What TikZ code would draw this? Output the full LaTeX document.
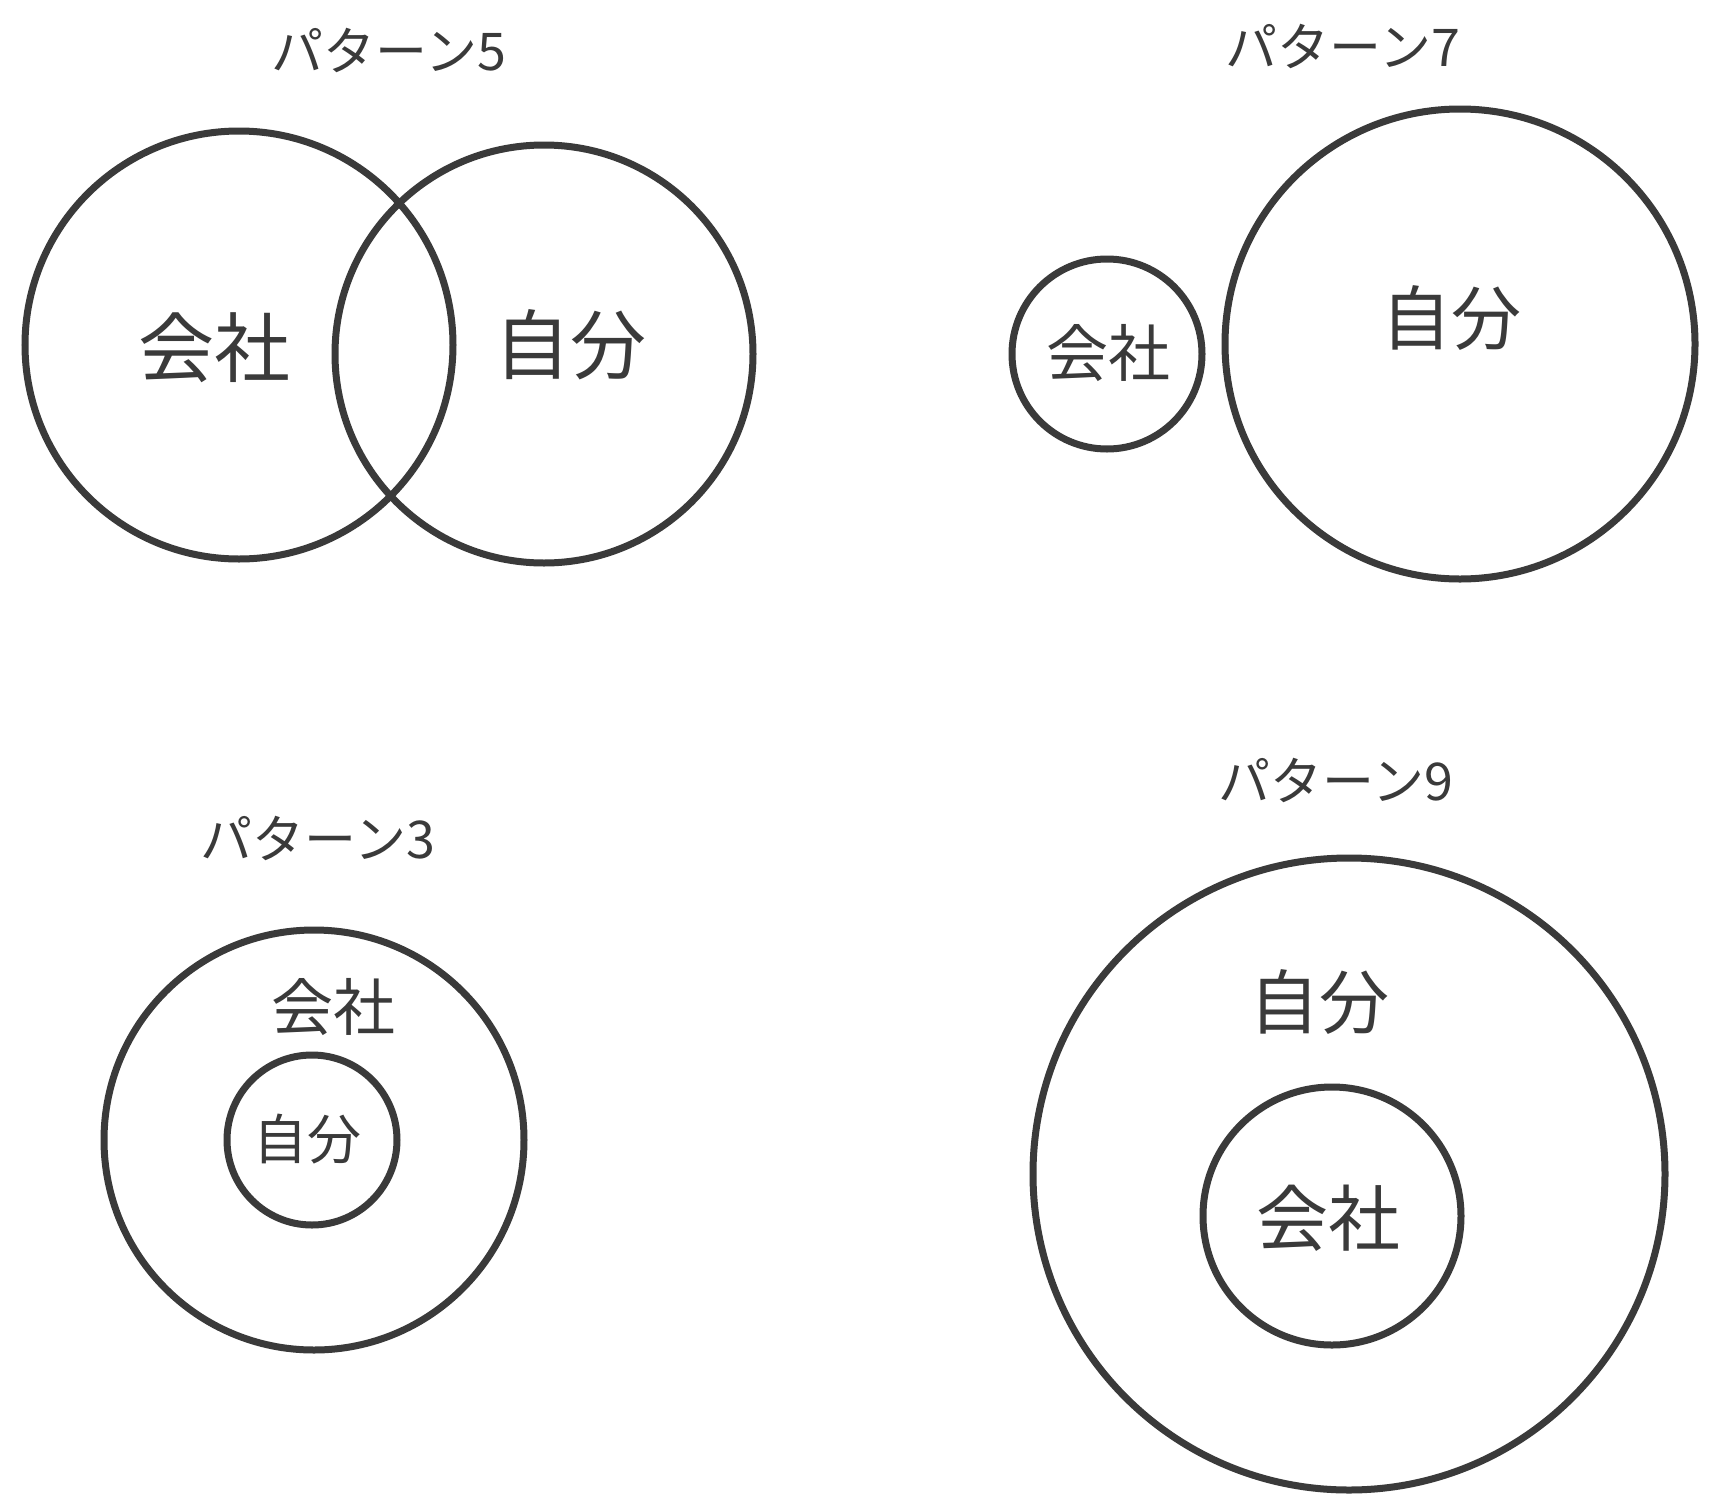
\documentclass[tikz,border=0pt]{standalone}
\usepackage{fontspec}
\newfontfamily\jp{Noto Sans CJK JP}
\definecolor{ink}{HTML}{3A3A3A}
\begin{document}
\begin{tikzpicture}[x=1pt,y=-1pt,
  ring/.style={draw=ink,line width=7pt,circle,inner sep=0pt},
  lbl/.style={text=ink,font=\jp,inner sep=0pt},
  ttl/.style={text=ink,font=\jp\fontsize{52}{56}\selectfont,inner sep=0pt}]
\useasboundingbox[fill=white] (0,0) rectangle (1717,1510);
% pattern 5
\node[ttl] (t5) at (389,50) {パターン5};
\node[ring,minimum size=428pt] (c5a) at (239,345) {};
\node[ring,minimum size=418pt] (c5b) at (544,354) {};
\node[lbl,font=\jp\fontsize{76}{80}\selectfont] (l5a) at (214,348) {会社};
\node[lbl,font=\jp\fontsize{76}{80}\selectfont] (l5b) at (570,345) {自分};
% pattern 7
\node[ttl] (t7) at (1343,46) {パターン7};
\node[ring,minimum size=190pt] (c7a) at (1107,354) {};
\node[ring,minimum size=470pt] (c7b) at (1460,344) {};
\node[lbl,font=\jp\fontsize{62}{66}\selectfont] (l7a) at (1108,353) {会社};
\node[lbl,font=\jp\fontsize{70}{74}\selectfont] (l7b) at (1451,318) {自分};
% pattern 3
\node[ttl] (t3) at (318,838) {パターン3};
\node[ring,minimum size=420pt] (c3a) at (314,1140) {};
\node[ring,minimum size=170pt] (c3b) at (312,1140) {};
\node[lbl,font=\jp\fontsize{62}{66}\selectfont] (l3a) at (333,1007) {会社};
\node[lbl,font=\jp\fontsize{54}{58}\selectfont] (l3b) at (307,1139) {自分};
% pattern 9
\node[ttl] (t9) at (1336,780) {パターン9};
\node[ring,minimum size=632pt] (c9a) at (1349,1174) {};
\node[ring,minimum size=258pt] (c9b) at (1332,1216) {};
\node[lbl,font=\jp\fontsize{70}{74}\selectfont] (l9a) at (1319,1002) {自分};
\node[lbl,font=\jp\fontsize{72}{76}\selectfont] (l9b) at (1328,1218) {会社};
\end{tikzpicture}
\end{document}
